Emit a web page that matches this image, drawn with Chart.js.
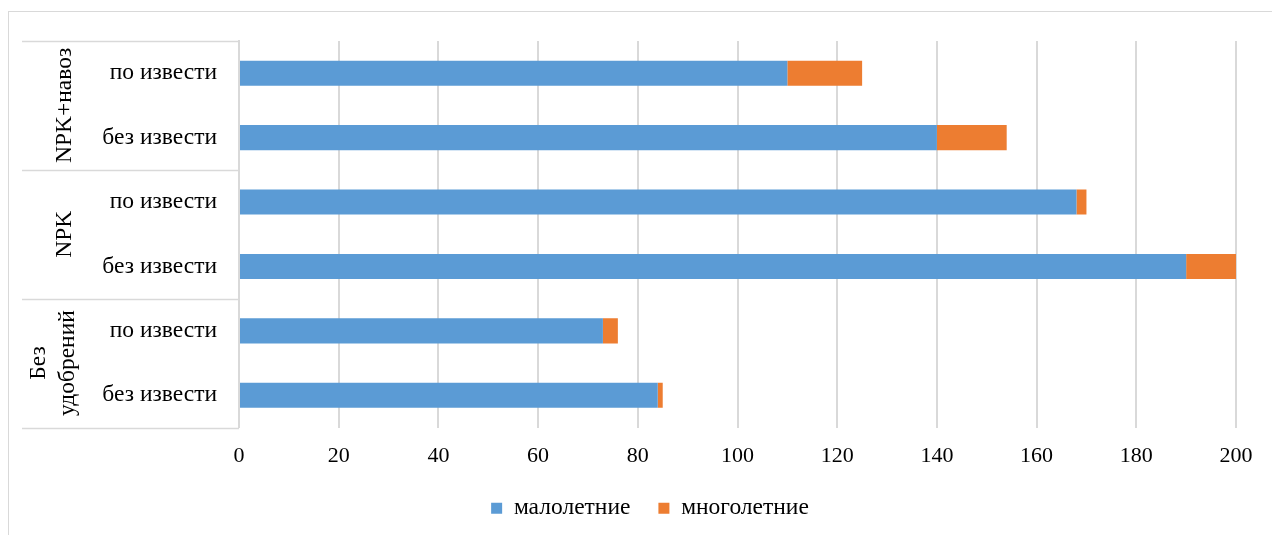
<!DOCTYPE html>
<html>
<head>
<meta charset="utf-8">
<script src="https://cdn.jsdelivr.net/npm/chart.js@4"></script>
<style>
  html, body { margin: 0; padding: 0; background: #fff; }
  #wrap { position: relative; width: 1272px; height: 535px; }
  #frame { position: absolute; left: 8px; top: 11px; width: 1280px; height: 540px; border: 1px solid #d9d9d9; pointer-events: none; }
</style>
</head>
<body>
<div id="wrap">
  <canvas id="chart1" width="1272" height="535"></canvas>
  <div id="frame"></div>
</div>
<script>
// Подписи категорий (сверху вниз)
var categories = ["по извести", "без извести", "по извести", "без извести", "по извести", "без извести"];
// Группы по две категории
var groups = [["NPK+навоз"], ["NPK"], ["Без", "удобрений"]];
// Значения рядов
var maloletnie = [110, 140, 168, 190, 73, 84];
var mnogoletnie = [15, 14, 2, 10, 3, 1];
// Шкала X
var xMin = 0;
var xMax = 200;
var xStep = 20;

var serif = "'Liberation Serif', 'Times New Roman', serif";

// Подписи групп слева и линии таблицы
var groupPlugin = {
    id: 'groupLabels',
    afterDraw: function (chart) {
        var ctx = chart.ctx;
        var area = chart.chartArea;
        var band = (area.bottom - area.top) / categories.length;
        ctx.save();
        ctx.strokeStyle = '#d9d9d9';
        ctx.lineWidth = 1.5;
        for (var k = 0; k <= groups.length; k++) {
            var y = Math.round(area.top + k * 2 * band) + 0.5;
            ctx.beginPath();
            ctx.moveTo(22, y);
            ctx.lineTo(area.left, y);
            ctx.stroke();
        }
        ctx.fillStyle = '#000';
        ctx.font = '23.5px ' + serif;
        ctx.textAlign = 'center';
        ctx.textBaseline = 'middle';
        for (var g = 0; g < groups.length; g++) {
            var cy = area.top + (g * 2 + 1) * band;
            var lines = groups[g];
            var lh = 29;
            for (var i = 0; i < lines.length; i++) {
                var cx = 65;
                if (lines.length > 1) cx = 39 + i * lh;
                ctx.save();
                ctx.translate(cx, cy);
                ctx.rotate(-Math.PI / 2);
                ctx.fillText(lines[i], 0, 0);
                ctx.restore();
            }
        }
        ctx.restore();
    }
};

var dataChart1 = {
    labels: categories,
    datasets: [{
        label: "малолетние",
        data: maloletnie,
        backgroundColor: "#5b9bd5",
        borderWidth: 0
    }, {
        label: "многолетние",
        data: mnogoletnie,
        backgroundColor: "#ed7d31",
        borderWidth: 0
    }]
};

var configChart1 = {
    type: 'bar',
    data: dataChart1,
    plugins: [groupPlugin],
    options: {
        indexAxis: 'y',
        responsive: false,
        animation: false,
        categoryPercentage: 1,
        barPercentage: 0.39,
        layout: {
            padding: { left: 64, right: 36, top: 41, bottom: 5 }
        },
        scales: {
            x: {
                stacked: true,
                min: xMin,
                max: xMax,
                afterFit: function (scale) { scale.height = 41; },
                ticks: {
                    stepSize: xStep,
                    color: '#000',
                    padding: 16,
                    font: { family: serif, size: 22 }
                },
                grid: { color: '#d9d9d9', lineWidth: 2, drawTicks: false },
                border: { display: false }
            },
            y: {
                stacked: true,
                afterFit: function (scale) { scale.width = 175; },
                ticks: {
                    color: '#000',
                    padding: 22,
                    font: { family: serif, size: 23.5 }
                },
                grid: { display: false, drawTicks: false },
                border: { display: true, color: '#d9d9d9', width: 2 }
            }
        },
        plugins: {
            legend: {
                position: 'bottom',
                labels: {
                    boxWidth: 11,
                    boxHeight: 11,
                    padding: 28,
                    color: '#000',
                    font: { family: serif, size: 23.5 }
                }
            },
            tooltip: { enabled: false }
        }
    }
};

// Создать график
var ctxChart1 = document.getElementById('chart1').getContext('2d');
new Chart(ctxChart1, configChart1);
</script>
</body>
</html>
